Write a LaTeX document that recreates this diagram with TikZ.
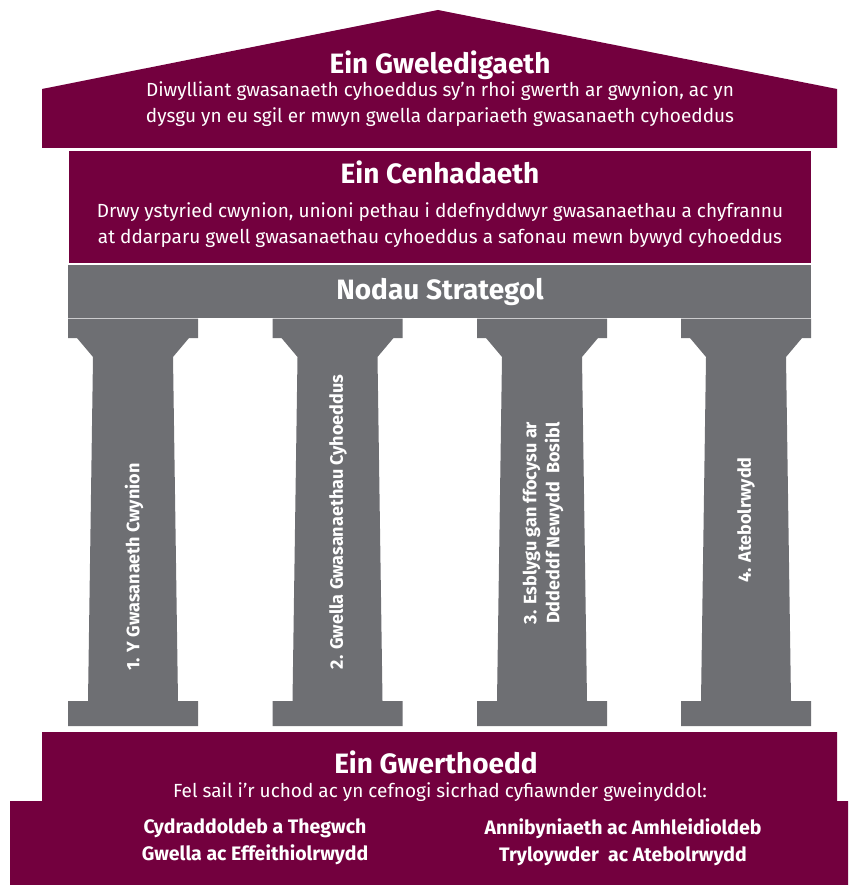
\documentclass[tikz,border=0pt]{standalone}
\usepackage{fontspec}
\setmainfont{Fira Sans}
\usetikzlibrary{positioning}
\definecolor{wineRD}{RGB}{115,0,62}
\definecolor{pillarGR}{RGB}{110,111,115}

\tikzset{
  headtxt/.style={text=white,font=\fontsize{28}{32}\selectfont\bfseries},
  bodytxt/.style={text=white,font=\fontsize{19}{26.5}\selectfont,align=center},
  pillartxt/.style={text=white,font=\fontsize{18}{23}\selectfont\bfseries,rotate=90,align=center},
  valtxt/.style={text=white,font=\fontsize{19.5}{27}\selectfont\bfseries,align=center}
}

\begin{document}
\begin{tikzpicture}[x=1pt,y=-1pt]
  \useasboundingbox (0,0) rectangle (855,885);

  % roof: vision
  \fill[wineRD] (42,89) -- (438,10) -- (837,89) -- (837,148) -- (42,148) -- cycle;
  \node[headtxt] (visionHd) at (440,65) {Ein Gweledigaeth};
  \node[bodytxt] (visionTx) at (440,104)
    {Diwylliant gwasanaeth cyhoeddus sy’n rhoi gwerth ar gwynion, ac yn\\
     dysgu yn eu sgil er mwyn gwella darpariaeth gwasanaeth cyhoeddus};

  % mission
  \fill[wineRD] (69,151) rectangle (811,263);
  \node[headtxt] (missionHd) at (440,172) {Ein Cenhadaeth};
  \node[bodytxt] (missionTx) at (440,225)
    {Drwy ystyried cwynion, unioni pethau i ddefnyddwyr gwasanaethau a chyfrannu\\
     at ddarparu gwell gwasanaethau cyhoeddus a safonau mewn bywyd cyhoeddus};

  % strategic aims band
  \fill[pillarGR] (68,265) rectangle (811,318);
  \node[headtxt] (aimsHd) at (440,292) {Nodau Strategol};

  % pillars
  \foreach \L in {68,272.5,477,681}{
    \fill[pillarGR] (\L,318.6) -- ++(130,0) -- ++(0,19.4) -- ++(-9,0) -- ++(-16,19)
      -- ++(5,344) -- ++(20,0) -- ++(0,25) -- ++(-130,0) -- ++(0,-25) -- ++(20,0)
      -- ++(5,-344) -- ++(-16,-19) -- ++(-9,0) -- cycle;
  }
  \node[pillartxt] (aim1) at (134,567) {1. Y Gwasanaeth Cwynion};
  \node[pillartxt] (aim2) at (338,522) {2. Gwella Gwasanaethau Cyhoeddus};
  \node[pillartxt] (aim3) at (543,523) {3. Esblygu gan ffocysu ar\\Dddeddf Newydd~~Bosibl};
  \node[pillartxt] (aim4) at (746,520) {4. Atebolrwydd};

  % base: values
  \fill[wineRD] (42,732) -- (837,732) -- (837,801) -- (848,801) -- (848,885)
    -- (10,885) -- (10,801) -- (42,801) -- cycle;
  \node[headtxt] (valuesHd) at (436,762) {Ein Gwerthoedd};
  \node[bodytxt] (valuesTx) at (440,792)
    {Fel sail i’r uchod ac yn cefnogi sicrhad cyfiawnder gweinyddol:};
  \node[valtxt] (valuesL) at (255,842) {Cydraddoldeb a Thegwch\\Gwella ac Effeithiolrwydd};
  \node[valtxt] (valuesR) at (623,842) {Annibyniaeth ac Amhleidioldeb\\Tryloywder~~ac Atebolrwydd};
\end{tikzpicture}
\end{document}
